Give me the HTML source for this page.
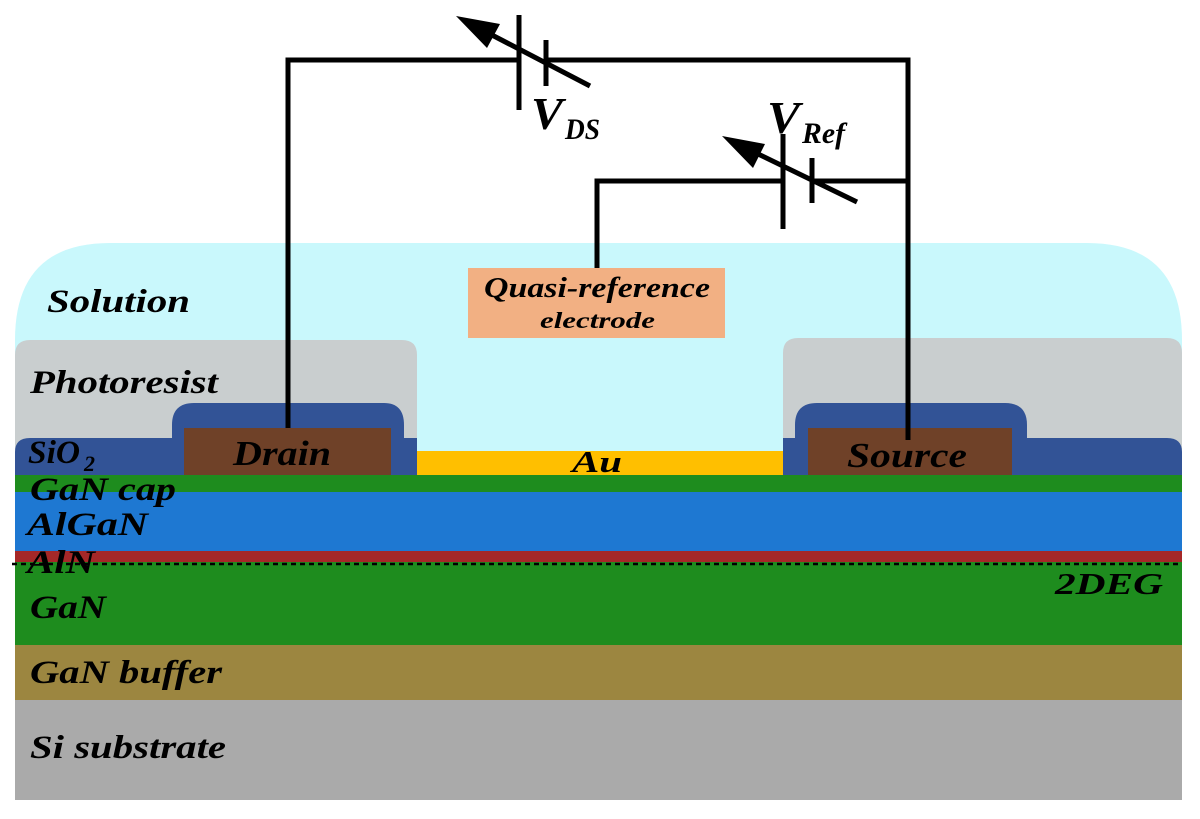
<!DOCTYPE html>
<html><head><style>body{margin:0;background:#fff}svg{display:block}text{font-family:"Liberation Serif",serif;font-weight:bold;font-style:italic;fill:#000}</style></head><body>
<svg width="1200" height="819" viewBox="0 0 1200 819" xmlns="http://www.w3.org/2000/svg">
<path d="M15 475 V340 Q15 243 110 243 H1087 Q1182 243 1182 340 V475 Z" fill="#c9f8fc"/>
<path d="M15 475 V355 Q15 340 30 340 H402 Q417 340 417 355 V475 Z" fill="#c9cecf"/>
<path d="M783 475 V353 Q783 338 798 338 H1167 Q1182 338 1182 353 V475 Z" fill="#c9cecf"/>
<path d="M15 475 V452 Q15 438 30 438 H172 V425 Q172 403 194 403 H384 Q404 403 404 425 V438 H417 V475 Z" fill="#325396"/>
<path d="M783 475 V438 H795 V425 Q795 403 817 403 H1005 Q1027 403 1027 425 V438 H1167 Q1182 438 1182 452 V475 Z" fill="#325396"/>
<rect x="184" y="428" width="207" height="47" fill="#6f4128"/>
<rect x="808" y="428" width="204" height="47" fill="#6f4128"/>
<rect x="417" y="451" width="366" height="24" fill="#ffbf00"/>
<rect x="15" y="475" width="1167" height="17" fill="#1e8c1e"/>
<rect x="15" y="492" width="1167" height="59" fill="#1e78d2"/>
<rect x="15" y="551" width="1167" height="11" fill="#a52828"/>
<rect x="15" y="562" width="1167" height="83" fill="#1e8c1e"/>
<rect x="15" y="645" width="1167" height="55" fill="#9c8640"/>
<rect x="15" y="700" width="1167" height="100" fill="#aaaaaa"/>
<line x1="12" y1="564" x2="1182" y2="564" stroke="#000" stroke-width="2.5" stroke-dasharray="5,4"/>
<rect x="468" y="268" width="257" height="70" fill="#f2b083"/>
<g stroke="#000" stroke-width="5" fill="none">
<polyline points="288,428 288,60 519,60"/>
<polyline points="546,60 908,60 908,440"/>
<polyline points="597,268 597,181 783,181"/>
<line x1="812" y1="181" x2="908" y2="181"/>
<line x1="519" y1="15" x2="519" y2="110"/>
<line x1="546" y1="40" x2="546" y2="86"/>
<line x1="590" y1="86" x2="490" y2="34"/>
<line x1="783" y1="134" x2="783" y2="229"/>
<line x1="812" y1="158" x2="812" y2="203"/>
<line x1="857" y1="202" x2="752" y2="151"/>
</g>
<polygon points="456,16 500,24 487,48" fill="#000"/>
<polygon points="722,136 765,144 753,168" fill="#000"/>
<g lengthAdjust="spacingAndGlyphs">
<text x="531" y="129" font-size="46" textLength="32" lengthAdjust="spacingAndGlyphs">V</text><text x="565" y="139" font-size="30" textLength="35" lengthAdjust="spacingAndGlyphs">DS</text>
<text x="767" y="133" font-size="46" textLength="33" lengthAdjust="spacingAndGlyphs">V</text><text x="802" y="143" font-size="30" textLength="43" lengthAdjust="spacingAndGlyphs">Ref</text>
<text x="484" y="297" font-size="28" textLength="226" lengthAdjust="spacingAndGlyphs">Quasi-reference</text>
<text x="540" y="328" font-size="23" textLength="115" lengthAdjust="spacingAndGlyphs">electrode</text>
<text x="47" y="312" font-size="33" textLength="143" lengthAdjust="spacingAndGlyphs">Solution</text>
<text x="30" y="393" font-size="33" textLength="188" lengthAdjust="spacingAndGlyphs">Photoresist</text>
<text x="28" y="463" font-size="33" textLength="52" lengthAdjust="spacingAndGlyphs">SiO</text><text x="84" y="471" font-size="22">2</text>
<text x="233" y="465" font-size="35" textLength="98" lengthAdjust="spacingAndGlyphs">Drain</text>
<text x="847" y="467" font-size="35" textLength="120" lengthAdjust="spacingAndGlyphs">Source</text>
<text x="572" y="472" font-size="31" textLength="50" lengthAdjust="spacingAndGlyphs">Au</text>
<text x="30" y="500" font-size="33" textLength="146" lengthAdjust="spacingAndGlyphs">GaN cap</text>
<text x="27" y="535" font-size="33" textLength="121" lengthAdjust="spacingAndGlyphs">AlGaN</text>
<text x="27" y="573" font-size="33" textLength="68" lengthAdjust="spacingAndGlyphs">AlN</text>
<text x="30" y="618" font-size="33" textLength="76" lengthAdjust="spacingAndGlyphs">GaN</text>
<text x="1055" y="594" font-size="31" textLength="108" lengthAdjust="spacingAndGlyphs">2DEG</text>
<text x="30" y="683" font-size="33" textLength="192" lengthAdjust="spacingAndGlyphs">GaN buffer</text>
<text x="30" y="758" font-size="33" textLength="196" lengthAdjust="spacingAndGlyphs">Si substrate</text>
</g>
</svg>
</body></html>
